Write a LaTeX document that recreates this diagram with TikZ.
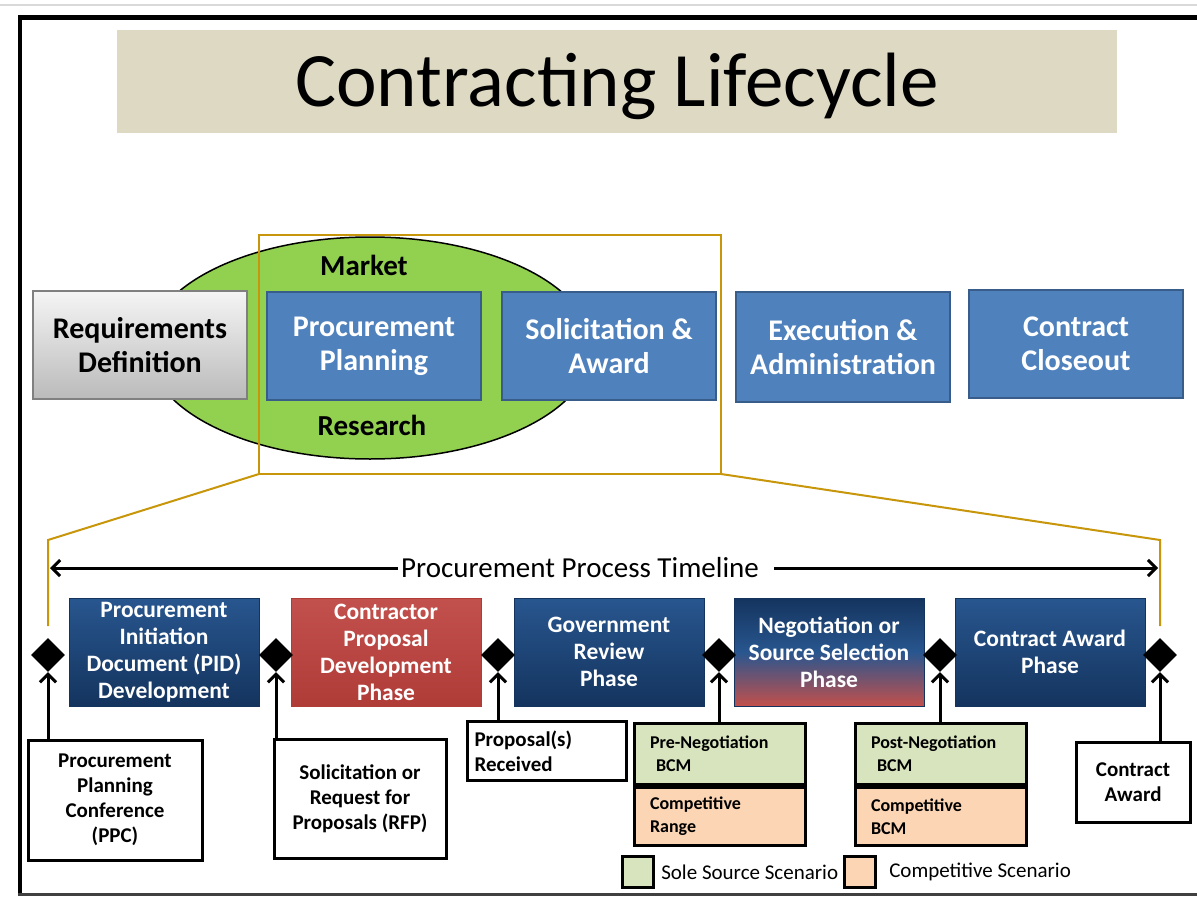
\documentclass[tikz,border=0pt]{standalone}
\usepackage{fontspec}
\setmainfont{Carlito}
\usetikzlibrary{positioning,shapes.geometric,arrows.meta}
\definecolor{titlebg}{RGB}{221,217,195}
\definecolor{lcblue}{RGB}{79,129,189}
\definecolor{lcblueline}{RGB}{56,93,138}
\definecolor{mktgreen}{RGB}{146,208,80}
\definecolor{zoomgold}{RGB}{200,150,10}
\definecolor{navytop}{RGB}{40,86,143}
\definecolor{navybot}{RGB}{20,52,94}
\definecolor{redtop}{RGB}{194,80,76}
\definecolor{redbot}{RGB}{176,60,56}
\definecolor{solegreen}{RGB}{215,228,189}
\definecolor{comporange}{RGB}{252,213,181}

\tikzset{
    stage/.style={draw=lcblueline, line width=1.5pt, fill=lcblue, text=white,
        font=\fontsize{30}{34}\selectfont\bfseries, align=center,
        minimum width=214, minimum height=108, inner sep=0pt},
    phase/.style={draw=navybot, line width=1pt, top color=navytop, bottom color=navybot,
        text=white, font=\fontsize{23.5}{27}\selectfont\bfseries, align=center,
        minimum width=190, minimum height=108, inner sep=0pt},
    milestone/.style={diamond, fill=black, minimum width=34, minimum height=34, inner sep=0pt},
    event/.style={draw=black, line width=3pt, fill=white,
        font=\fontsize{21}{25}\selectfont\bfseries, align=center, inner sep=0pt},
    bcm/.style={draw=black, line width=3pt, font=\fontsize{18}{23}\selectfont\bfseries,
        align=left, text width=140, minimum width=171, inner sep=0pt},
    upArrow/.style={line width=3pt, -{Straight Barb[length=8pt, width=16pt, line width=3pt]}},
    zoomLine/.style={draw=zoomgold, line width=2pt}
}

\begin{document}
\begin{tikzpicture}[x=1pt, y=-1pt]
    \useasboundingbox (0, 0) rectangle (1197, 897);
    % frame
    \fill[white] (0, 0) rectangle (1197, 897);
    \draw[black!15, line width=1.5pt] (0, 5) -- (1197, 5);
    \draw[line width=5pt] (20, 17) -- (1197, 17);
    \draw[line width=4pt] (20, 15) -- (20, 894);
    \draw[black!75, line width=3pt] (18, 894) -- (1197, 894);
    % Title
    \fill[titlebg] (117, 30) rectangle (1117, 133);
    \node[font=\fontsize{77}{80}\selectfont] (Title) at (617, 86) {Contracting Lifecycle};

    % lifecycle stages
    \draw[fill=mktgreen, line width=1.5pt] (370, 348) ellipse [x radius=222, y radius=111];
    \node[font=\fontsize{29}{32}\selectfont\bfseries] (Market) at (364, 265) {Market};
    \node[font=\fontsize{29}{32}\selectfont\bfseries] (Research) at (372, 425) {Research};
    \node[stage, draw=black!50, top color=black!4, bottom color=black!27, text=black] (ReqDef) at (140, 345) {Requirements\\Definition};
    \node[stage] (ProcPlan) at (374, 346) {Procurement\\Planning};
    \node[stage] (SolAward) at (609, 346) {Solicitation \&\\Award};
    \node[stage, minimum height=110] (ExecAdmin) at (843, 347) {Execution \&\\Administration};
    \node[stage] (Closeout) at (1076, 344) {Contract\\Closeout};

    % zoom frame
    \draw[zoomLine] (259, 235) rectangle (721, 474);
    \coordinate (ZoomL) at (48, 540);
    \coordinate (ZoomR) at (1160, 540);
    \draw[zoomLine] (259, 474) -- (ZoomL) -- (48, 626);
    \draw[zoomLine] (721, 474) -- (ZoomR) -- (1160, 626);

    % timeline
    \node[font=\fontsize{29}{32}\selectfont] (Timeline) at (580, 568) {Procurement Process Timeline};
    \draw[line width=3pt, -{Straight Barb[length=8pt, width=16pt, line width=3pt]}] (Timeline.west) -- (50, 568);
    \draw[line width=3pt, -{Straight Barb[length=8pt, width=16pt, line width=3pt]}] (Timeline.east) ++(12, 0) -- (1158, 568);

    % phases
    \node[phase] (PID) at (164, 652) {Procurement\\Initiation\\Document (PID)\\Development};
    \node[phase, top color=redtop, bottom color=redbot, draw=redbot] (Proposal) at (386, 652) {Contractor\\Proposal\\Development\\Phase};
    \node[phase] (Review) at (609, 652) {Government\\Review\\Phase};
    \node[phase, top color=navybot, bottom color=redtop, middle color=navytop, draw=navybot] (Negotiation) at (829, 652) {Negotiation or\\Source Selection\\Phase};
    \node[phase] (AwardPhase) at (1050, 652) {Contract Award\\Phase};

    % milestones
    \node[milestone] (Mile1) at (48, 655) {};
    \node[milestone] (Mile2) at (276, 655) {};
    \node[milestone] (Mile3) at (498, 655) {};
    \node[milestone] (Mile4) at (719, 655) {};
    \node[milestone] (Mile5) at (940, 655) {};
    \node[milestone] (Mile6) at (1160, 655) {};

    % events
    \node[event, minimum width=174, minimum height=120] (PPC) at (115, 800) {Procurement\\Planning\\Conference\\(PPC)};
    \node[event, minimum width=172, minimum height=119] (RFP) at (360, 799) {Solicitation or\\Request for\\Proposals (RFP)};
    \node[event, minimum width=159, minimum height=59, align=left, text width=145] (Received) at (547, 751) {Proposal(s)\\Received};
    \node[bcm, fill=solegreen, minimum height=61, anchor=south] (PreNeg) at (720, 786) {Pre-Negotiation\\\ BCM};
    \node[bcm, fill=comporange, minimum height=58, anchor=north] (CompRange) at (720, 786) {Competitive\\Range};
    \node[bcm, fill=solegreen, minimum height=61, anchor=south] (PostNeg) at (941, 786) {Post-Negotiation\\\ BCM};
    \node[bcm, fill=comporange, minimum height=58, anchor=north] (CompBCM) at (941, 786) {Competitive\\BCM};
    \node[event, minimum width=114, minimum height=80] (Award) at (1133, 782) {Contract\\Award};

    \draw[upArrow] (Mile1 |- PPC.north) -- (Mile1.south);
    \draw[upArrow] (Mile2 |- RFP.north) -- (Mile2.south);
    \draw[upArrow] (Mile3 |- Received.north) -- (Mile3.south);
    \draw[upArrow] (Mile4 |- PreNeg.north) -- (Mile4.south);
    \draw[upArrow] (Mile5 |- PostNeg.north) -- (Mile5.south);
    \draw[upArrow] (Mile6 |- Award.north) -- (Mile6.south);

    % legend
    \node[draw=black, line width=2.5pt, fill=solegreen, minimum size=31, inner sep=0pt] (SoleKey) at (638, 872) {};
    \node[font=\fontsize{21}{24}\selectfont, right=3pt of SoleKey] (SoleText) {Sole Source Scenario};
    \node[draw=black, line width=2.5pt, fill=comporange, minimum size=31, inner sep=0pt] (CompKey) at (860, 872) {};
    \node[font=\fontsize{21}{24}\selectfont, right=9pt of CompKey] (CompText) {Competitive Scenario};
\end{tikzpicture}
\end{document}
